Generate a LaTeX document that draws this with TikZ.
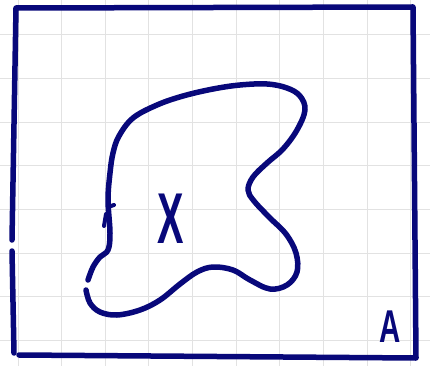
\documentclass[tikz,border=0pt]{standalone}
\usepackage{fontspec}
\setmainfont{Liberation Sans}
\definecolor{ink}{RGB}{8,8,122}
\definecolor{gridc}{RGB}{226,226,226}
\tikzset{
  pen/.style={draw=ink, line width=5.5pt, line cap=round, line join=round},
  gridline/.style={draw=gridc, line width=1pt},
  lbl/.style={text=ink, inner sep=0pt}
}
\begin{document}
\begin{tikzpicture}[x=1pt,y=-1pt]
\useasboundingbox (0,0) rectangle (430,366);
\fill[white] (0,0) rectangle (430,366);
% grid
\foreach \i in {0,...,9} {
  \draw[gridline] ({18+43.65*\i},0) -- ({18+43.65*\i},366);
}
\foreach \j in {0,...,7} {
  \draw[gridline] (0,{35+43.6*\j}) -- (430,{35+43.6*\j});
}
% frame
\coordinate (tl) at (16,8);
\coordinate (tr) at (413,7);
\coordinate (br) at (416,358);
\coordinate (bl) at (19,355);
\coordinate (gapA) at (12,240);
\coordinate (gapB) at (12,251);
\coordinate (lbot) at (14,353);
\draw[pen] (gapA) -- (tl) -- (tr) -- (br) -- (bl);
\draw[pen] (gapB) -- (lbot);
% blob
\draw[pen] plot[smooth, tension=0.6] coordinates {
 (86,290) (90,303) (100,312) (117,315) (140,310) (160,300) (180,284)
 (197,272) (213,267) (233,270) (250,280) (270,289) (287,285) (297,272)
 (296,253) (286,234) (270,218) (254,201) (248,190) (253,177) (267,163)
 (283,149) (297,130) (305,110) (300,96) (287,88) (267,84) (240,85)
 (213,89) (183,96) (157,105) (133,118) (119,136) (113,153) (110,173)
 (108,200) (110,233) (108,250) (100,257) (93,267) (88,280)};
% small tick strokes on left side
\draw[pen, line width=4pt] (108,207) -- (114,205);
\draw[pen, line width=4pt] (104,226) -- (106,214);
% labels
\node[lbl, font=\fontsize{72}{72}\selectfont\bfseries, xscale=0.55] (x) at (171,219) {X};
\node[lbl, font=\fontsize{46}{46}\selectfont\bfseries, xscale=0.64] (a) at (390,327) {A};
\end{tikzpicture}
\end{document}
